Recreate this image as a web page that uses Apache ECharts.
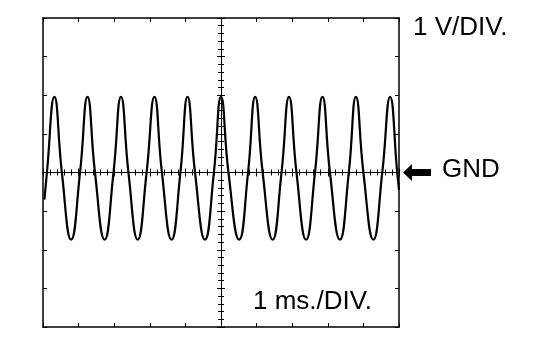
<!DOCTYPE html>
<html>
<head>
<meta charset="utf-8">
<script src="https://cdn.jsdelivr.net/npm/echarts@6/dist/echarts.min.js"></script>
<style>
  html, body { margin: 0; padding: 0; background: #fff; }
  #chart { width: 560px; height: 344px; }
</style>
</head>
<body>
<div id="chart"></div>
<script>
// Time (ms, relative to screen centre) and voltage (V)
var timeMs = [-4.96, -4.89, -4.68, -4.47, -4.21, -3.96, -3.75, -3.54, -3.27, -3.02,
              -2.81, -2.60, -2.34, -2.09, -1.87, -1.66, -1.39, -1.14, -0.94, -0.73,
              -0.45, -0.20, 0.00, 0.21, 0.51, 0.76, 0.96, 1.17, 1.45, 1.70,
              1.91, 2.12, 2.39, 2.64, 2.85, 3.06, 3.34, 3.59, 3.79, 4.00,
              4.28, 4.53, 4.75, 4.95, 5.00];
var volts  = [-0.70, 0, 1.96, 0, -1.74, 0, 1.96, 0, -1.74, 0,
              1.96, 0, -1.74, 0, 1.96, 0, -1.74, 0, 1.96, 0,
              -1.74, 0, 1.96, 0, -1.74, 0, 1.96, 0, -1.74, 0,
              1.96, 0, -1.74, 0, 1.96, 0, -1.74, 0, 1.96, 0,
              -1.74, 0, 1.96, 0, -0.45];
var timeRange = [-5, 5];   // 10 divisions, 1 ms/div
var voltRange = [-4, 4];   // 8 divisions, 1 V/div
var labelVolt = '1 V/DIV.';
var labelTime = '1 ms./DIV.';
var labelGnd = 'GND';

var FONT = "'Liberation Sans', Arial, sans-serif";
var chart = echarts.init(document.getElementById('chart'), null, { renderer: 'canvas' });

function frameAxis(pos, isX) {
  return {
    type: 'value', position: pos,
    min: isX ? timeRange[0] : voltRange[0],
    max: isX ? timeRange[1] : voltRange[1],
    interval: 1,
    axisLine: { show: true, onZero: false, lineStyle: { color: '#000', width: 1.5 } },
    axisTick: { show: true, inside: true, length: 4, lineStyle: { color: '#000', width: 1 } },
    axisLabel: { show: false },
    splitLine: { show: false }
  };
}
function centreAxis(pos, isX, inside) {
  return {
    type: 'value', position: pos,
    min: isX ? timeRange[0] : voltRange[0],
    max: isX ? timeRange[1] : voltRange[1],
    interval: 1,
    axisLine: { show: true, onZero: true, onZeroAxisIndex: 0, lineStyle: { color: '#000', width: 1 } },
    axisTick: { show: true, inside: inside, length: 4, lineStyle: { color: '#000', width: 1 } },
    minorTick: { show: true, splitNumber: 5, length: 3, lineStyle: { color: '#000', width: 1 } },
    axisLabel: { show: false },
    splitLine: { show: false }
  };
}

var seriesData = timeMs.map(function (t, i) { return [t, volts[i]]; });

chart.setOption({
  animation: false,
  backgroundColor: '#fff',
  grid: { left: 43, right: 161, top: 18, bottom: 17, containLabel: false },
  xAxis: [
    frameAxis('bottom', true),
    frameAxis('top', true),
    centreAxis('bottom', true, true),
    centreAxis('bottom', true, false)
  ],
  yAxis: [
    frameAxis('left', false),
    frameAxis('right', false),
    centreAxis('left', false, true),
    centreAxis('left', false, false)
  ],
  series: [{
    type: 'line',
    xAxisIndex: 0, yAxisIndex: 0,
    data: seriesData,
    smooth: 0.5,
    symbol: 'none',
    clip: true,
    lineStyle: { color: '#000', width: 2.2 },
    z: 5
  }]
});

var gnd = chart.convertToPixel({ gridIndex: 0 }, [timeRange[1], 0]);
var tipX = gnd[0] + 4, tipY = gnd[1];
chart.setOption({
  graphic: [
    {
      type: 'polygon',
      shape: { points: [[0, 0], [9, -8.5], [9, -3.5], [28, -3.5], [28, 3.5], [9, 3.5], [9, 8.5]] },
      x: tipX, y: tipY,
      style: { fill: '#000' }
    },
    {
      type: 'text', x: tipX + 39, y: tipY - 3,
      style: { text: labelGnd, font: "26px " + FONT, fill: '#000', verticalAlign: 'middle', align: 'left' }
    },
    {
      type: 'text', x: 413, y: 28,
      style: { text: labelVolt, font: "26px " + FONT, fill: '#000', verticalAlign: 'middle', align: 'left' }
    },
    {
      type: 'text', x: 253, y: 302,
      style: { text: labelTime, font: "26px " + FONT, fill: '#000', verticalAlign: 'middle', align: 'left' }
    }
  ]
});
</script>
</body>
</html>
